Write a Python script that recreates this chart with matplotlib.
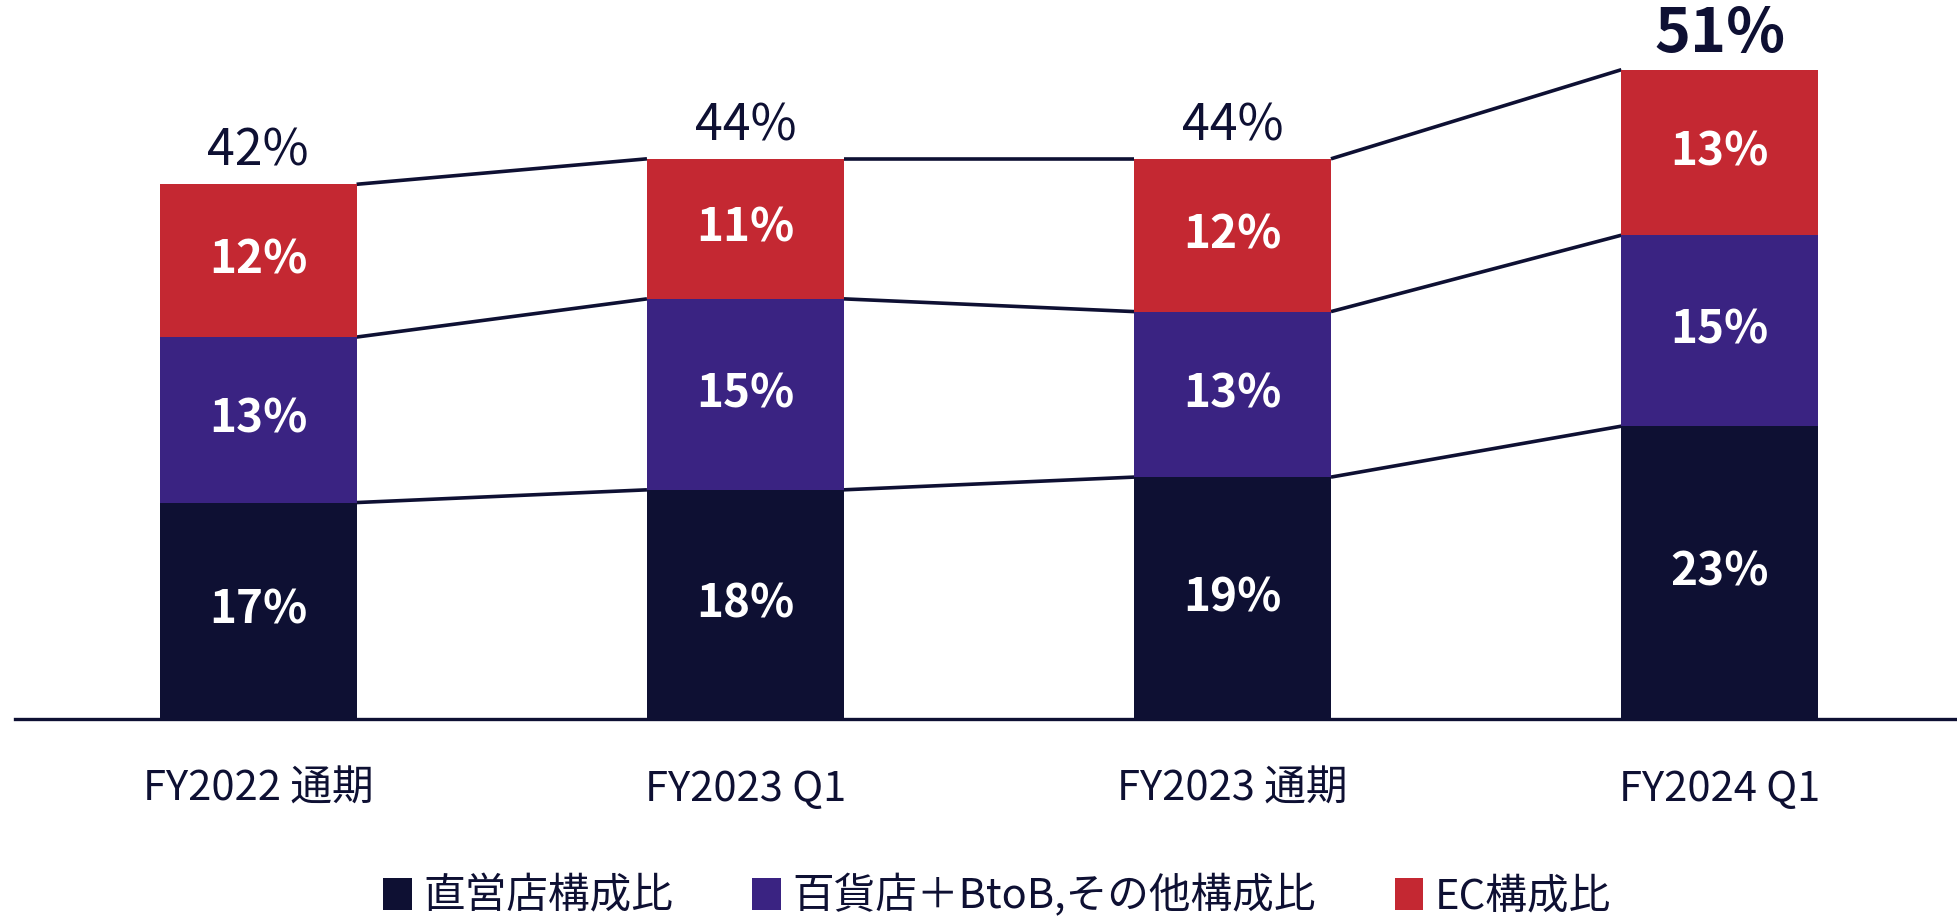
import matplotlib
matplotlib.use("Agg")
import matplotlib.pyplot as plt
from matplotlib.patches import Patch

plt.rcParams['font.family'] = ['Noto Sans CJK JP', 'DejaVu Sans']

# データ
periods = ['FY2022 通期', 'FY2023 Q1', 'FY2023 通期', 'FY2024 Q1']
series_names = ['直営店構成比', '百貨店＋BtoB,その他構成比', 'EC構成比']
direct_store = [17, 18, 19, 23]
dept_btob = [13, 15, 13, 15]
ec = [12, 11, 12, 13]
totals = [42, 44, 44, 51]

colors = ['#0E1033', '#3A2382', '#C42832']
navy = '#0E1033'


def make_chart():
    fig = plt.figure(figsize=(19.57, 9.18), dpi=100)
    ax = fig.add_axes([0.0077, 0.2168, 0.9923, 0.7766])

    x = list(range(len(periods)))
    width = 0.404
    bottoms = [0] * len(periods)
    levels = []

    for vals, col in zip([direct_store, dept_btob, ec], colors):
        ax.bar(x, vals, width=width, bottom=bottoms, color=col, zorder=2)
        for i, v in enumerate(vals):
            ax.text(i, bottoms[i] + v / 2, f'{v}%', ha='center', va='center',
                    color='white', fontsize=33, fontweight='semibold', zorder=3)
        bottoms = [b + v for b, v in zip(bottoms, vals)]
        levels.append(list(bottoms))

    # 各棒の間をつなぐ線
    for lev in levels:
        for i in range(len(periods) - 1):
            ax.plot([i + width / 2, i + 1 - width / 2], [lev[i], lev[i + 1]],
                    color=navy, lw=2.6, zorder=1, solid_capstyle='butt')

    # 合計ラベル
    for i, t in enumerate(totals):
        if i == len(totals) - 1:
            ax.text(i, t + 0.4, f'{t}%', ha='center', va='bottom', color=navy,
                    fontsize=44, fontweight='bold')
        else:
            ax.text(i, t + 0.5, f'{t}%', ha='center', va='bottom', color=navy,
                    fontsize=36)

    ax.set_xlim(-0.499, 3.487)
    ax.set_ylim(0, 56)
    ax.set_xticks(x)
    ax.set_xticklabels(periods, fontsize=30, color=navy)
    ax.tick_params(axis='x', length=0, pad=36)
    ax.set_yticks([])
    for s in ['top', 'right', 'left']:
        ax.spines[s].set_visible(False)
    ax.spines['bottom'].set_color(navy)
    ax.spines['bottom'].set_linewidth(2.4)

    handles = [Patch(facecolor=c, edgecolor='none') for c in colors]
    leg = fig.legend(handles, series_names, loc='center', bbox_to_anchor=(0.5096, 0.024),
                     ncol=3, frameon=False, fontsize=30, handlelength=0.68,
                     handleheight=0.82, handletextpad=0.28, columnspacing=1.9)
    for t in leg.get_texts():
        t.set_color(navy)

    fig.savefig('out.png', dpi=100)


if __name__ == "__main__":
    make_chart()
